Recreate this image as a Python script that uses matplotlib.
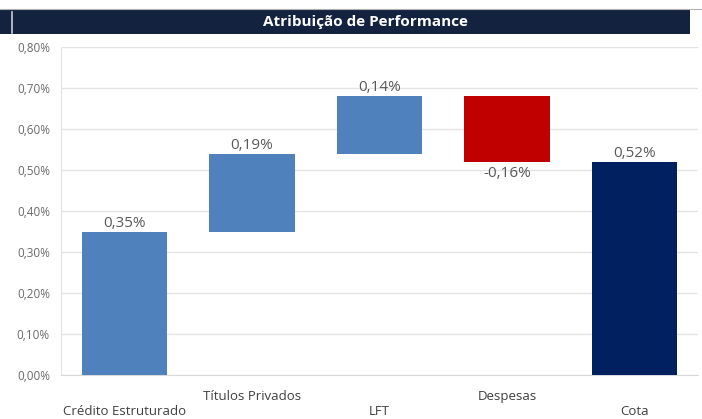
import matplotlib.pyplot as plt
from matplotlib.patches import Rectangle

categorias = ["Crédito Estruturado", "Títulos Privados", "LFT", "Despesas", "Cota"]
variacao = [0.35, 0.19, 0.14, -0.16, 0.52]
rotulos = ["0,35%", "0,19%", "0,14%", "-0,16%", "0,52%"]
cores = ["#4f81bd", "#4f81bd", "#4f81bd", "#c00000", "#002060"]
yticks = [0.0, 0.1, 0.2, 0.3, 0.4, 0.5, 0.6, 0.7, 0.8]

plt.rcParams['font.family'] = ['Open Sans', 'DejaVu Sans']

fig = plt.figure(figsize=(7.02, 4.19), dpi=100)

# faixa do titulo
fig.patches.append(Rectangle((0, 1 - 34/419), 690/702, 24/419, transform=fig.transFigure,
                             facecolor="#13233f", edgecolor="none"))
fig.lines.append(plt.Line2D([12/702, 12/702], [1 - 33/419, 1 - 12/419], transform=fig.transFigure,
                            color="#c8ccd4", lw=1.2))
fig.lines.append(plt.Line2D([0, 1], [1 - 9/419, 1 - 9/419], transform=fig.transFigure,
                            color="#b0b0b0", lw=0.8))
fig.text(365/702, 1 - 22/419, "Atribuição de Performance", color="white", fontsize=11,
         fontweight="bold", ha="center", va="center")

ax = fig.add_axes([61/702, 44/419, 637/702, 328/419])

# cascata: bases calculadas a partir das variacoes
bases = []
acum = 0
for i, v in enumerate(variacao):
    if i == len(variacao) - 1:
        bases.append(0)
    elif v >= 0:
        bases.append(acum)
        acum += v
    else:
        acum += v
        bases.append(acum)
alturas = [abs(v) for v in variacao]

x = list(range(len(categorias)))
ax.bar(x, alturas, bottom=bases, width=0.67, color=cores, zorder=3)

for i, v in enumerate(variacao):
    if v >= 0:
        ax.text(i, bases[i] + alturas[i] + 0.002, rotulos[i], ha="center", va="bottom",
                fontsize=11, color="#595959")
    else:
        ax.text(i, bases[i] - 0.01, rotulos[i], ha="center", va="top",
                fontsize=11, color="#595959")

ax.set_xlim(-0.5, len(categorias) - 0.5)
ax.set_ylim(0, 0.8)
ax.set_yticks(yticks)
ax.set_yticklabels([("%.2f%%" % t).replace(".", ",") for t in yticks], fontsize=8.5, color="#6a6a6a")
ax.grid(axis="y", color="#e3e3e3", lw=1, zorder=0)
ax.set_xticks(x)
ax.set_xticklabels([])
for i, c in enumerate(categorias):
    dy = -0.065 if i % 2 == 1 else -0.11
    ax.text(i, dy, c, ha="center", va="center", fontsize=9.5, color="#404040",
            transform=ax.get_xaxis_transform())
ax.tick_params(length=0, pad=8)
for s in ["top", "right"]:
    ax.spines[s].set_visible(False)
ax.spines["left"].set_color("#e3e3e3")
ax.spines["bottom"].set_color("#d9d9d9")

fig.savefig("out.png", dpi=100)
